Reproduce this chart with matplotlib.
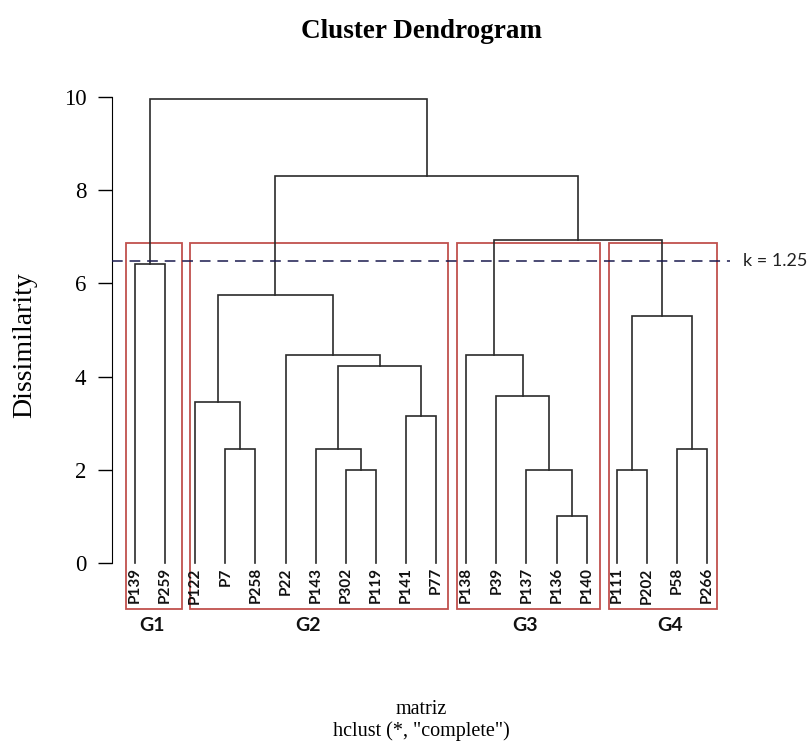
import matplotlib
matplotlib.use("Agg")
import matplotlib.pyplot as plt
from matplotlib.patches import Rectangle

# leaf order as drawn (left to right)
leaves = ["P139", "P259", "P122", "P7", "P258", "P22", "P143", "P302", "P119",
          "P141", "P77", "P138", "P39", "P137", "P136", "P140", "P111", "P202",
          "P58", "P266"]

# merges: (left child, right child, height); children are leaf names or merge keys
merges = {
    "G1":   ("P139", "P259", 6.41),
    "a":    ("P7", "P258", 2.45),
    "b":    ("P122", "a", 3.45),
    "c":    ("P302", "P119", 2.0),
    "d":    ("P143", "c", 2.45),
    "e":    ("P141", "P77", 3.16),
    "f":    ("d", "e", 4.23),
    "g":    ("P22", "f", 4.47),
    "G2":   ("b", "g", 5.75),
    "h":    ("P136", "P140", 1.0),
    "i":    ("P137", "h", 2.0),
    "j":    ("P39", "i", 3.59),
    "G3":   ("P138", "j", 4.47),
    "k":    ("P111", "P202", 2.0),
    "l":    ("P58", "P266", 2.45),
    "G4":   ("k", "l", 5.29),
    "G34":  ("G3", "G4", 6.93),
    "G234": ("G2", "G34", 8.30),
    "root": ("G1", "G234", 9.96),
}

# cluster boxes (edges in leaf-position units) and their labels
groups = ["G1", "G2", "G3", "G4"]
box_left = [0.70, 2.83, 11.71, 16.74]
box_right = [2.57, 11.41, 16.45, 20.34]
group_label_x = [1.55, 6.75, 13.95, 18.77]
box_top = 6.86
box_bottom = -0.99
cut_height = 6.48
cut_text = "k = 1.25"

SERIF = "Liberation Serif"
SANS = "Lato"
LINE = "#2b2b2b"
RED = "#c0504d"

pos = {name: i + 1 for i, name in enumerate(leaves)}


def node(key):
    # returns (x, height) of a node
    if key in pos:
        return pos[key], 0.0
    l, r, h = merges[key]
    return (node(l)[0] + node(r)[0]) / 2.0, h


fig = plt.figure(figsize=(8.07, 7.45), dpi=100)
ax = fig.add_axes([0.1389, 0.2193, 0.7657, 0.6730])
n = len(leaves)
ax.set_xlim(1 - 0.04 * (n - 1), n + 0.04 * (n - 1))
ax.set_ylim(-0.40, 10.36)

for key, (l, r, h) in merges.items():
    xl, hl = node(l)
    xr, hr = node(r)
    ax.plot([xl, xl, xr, xr], [hl, h, h, hr], color=LINE, lw=1.2,
            solid_joinstyle="miter", zorder=3)

for name, x in pos.items():
    ax.text(x, -0.09, name, rotation=90, ha="center", va="top",
            family=SANS, weight="bold", fontsize=11, color="#111111")

for g, l, r, lx in zip(groups, box_left, box_right, group_label_x):
    ax.add_patch(Rectangle((l, box_bottom), r - l, box_top - box_bottom,
                           fill=False, ec=RED, lw=1.3, clip_on=False, zorder=2))
    ax.text(lx, -1.34, g, ha="center", va="center", family=SANS,
            weight="bold", fontsize=14, color="#111111")

ax.axhline(cut_height, color="#1a1a4e", lw=1.1, ls=(0, (7, 4.5)), zorder=4)
ax.text(1.021, cut_height, cut_text, transform=ax.get_yaxis_transform(),
        ha="left", va="center", family=SANS, fontsize=13, color="#222222")

for s in ["top", "right", "bottom"]:
    ax.spines[s].set_visible(False)
ax.spines["left"].set_bounds(0, 10)
ax.set_xticks([])
ax.set_yticks([0, 2, 4, 6, 8, 10])
ax.tick_params(axis="y", length=10, width=1, pad=8.5, labelsize=16.5)
for lab in ax.get_yticklabels():
    lab.set_family(SERIF)

fig.text(25 / 807, 1 - 345 / 745, "Dissimilarity", rotation=90, ha="center",
         va="center", family=SERIF, fontsize=20)
fig.text(0.5217, 0.958, "Cluster Dendrogram", ha="center", va="center",
         family=SERIF, weight="bold", fontsize=19.5)
fig.text(0.5217, 0.048, "matriz", ha="center", va="center",
         family=SERIF, fontsize=14.5)
fig.text(0.5217, 0.019, 'hclust (*, "complete")', ha="center", va="center",
         family=SERIF, fontsize=14.5)

fig.savefig("out.png", dpi=100)
